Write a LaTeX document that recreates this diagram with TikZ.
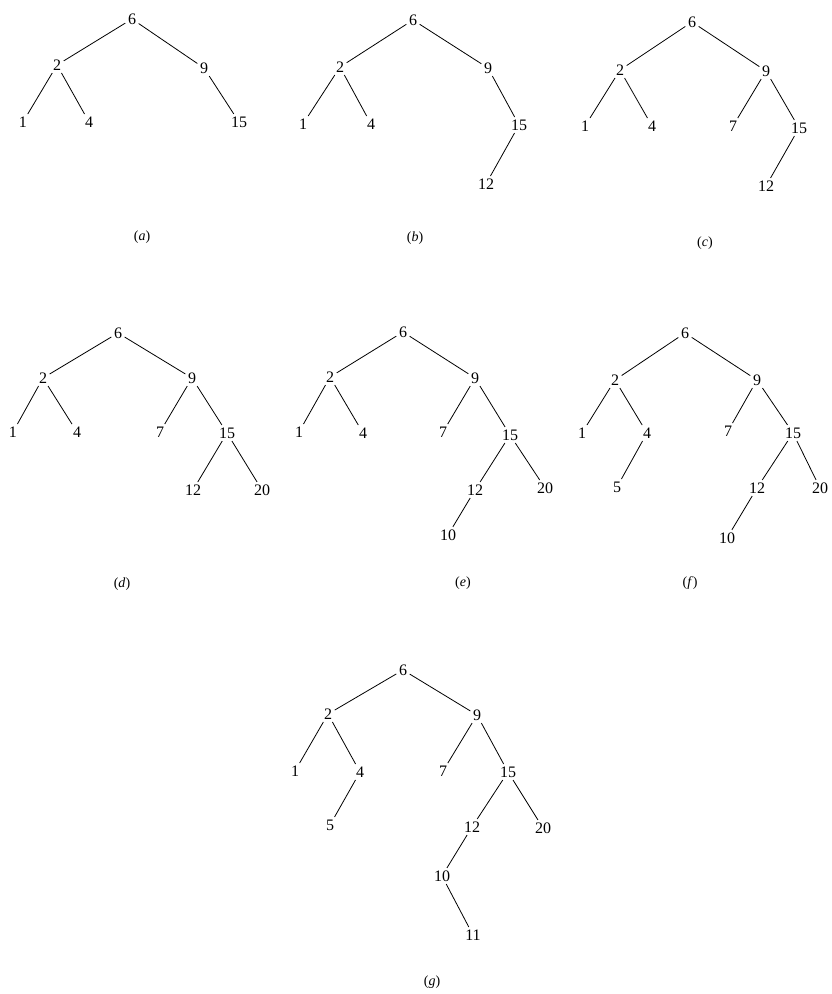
\documentclass[tikz,border=0pt]{standalone}
\usepackage{fontspec}
\setmainfont{Liberation Serif}
\begin{document}
\begin{tikzpicture}[x=1pt,y=-1pt,
  nd/.style={inner sep=2.5pt, font=\fontsize{16}{18}\selectfont},
  lbl/.style={inner sep=1pt, font=\fontsize{14}{16}\selectfont},
  ed/.style={line width=0.8pt}]
\useasboundingbox (0,0) rectangle (831,994);
% ---- (a)
\node[nd] (a6) at (132,19) {6};
\node[nd] (a2) at (57,65) {2};
\node[nd] (a9) at (204,68) {9};
\node[nd] (a1) at (23,122) {1};
\node[nd] (a4) at (89,122) {4};
\node[nd] (a15) at (239,122) {15};
\node[lbl] (la) at (142,237) {(\textit{a})};
\draw[ed] (a6)--(a2); \draw[ed] (a6)--(a9); \draw[ed] (a2)--(a1); \draw[ed] (a2)--(a4); \draw[ed] (a9)--(a15);
% ---- (b)
\node[nd] (b6) at (413,20) {6};
\node[nd] (b2) at (340,67) {2};
\node[nd] (b9) at (488,68) {9};
\node[nd] (b1) at (303,124) {1};
\node[nd] (b4) at (371,124) {4};
\node[nd] (b15) at (519,125) {15};
\node[nd] (b12) at (486,184) {12};
\node[lbl] (lb) at (415,238) {(\textit{b})};
\draw[ed] (b6)--(b2); \draw[ed] (b6)--(b9); \draw[ed] (b2)--(b1); \draw[ed] (b2)--(b4); \draw[ed] (b9)--(b15); \draw[ed] (b15)--(b12);
% ---- (c)
\node[nd] (c6) at (692,22) {6};
\node[nd] (c2) at (620,70) {2};
\node[nd] (c9) at (766,71) {9};
\node[nd] (c1) at (585,126) {1};
\node[nd] (c4) at (652,126) {4};
\node[nd] (c7) at (733,126) {7};
\node[nd] (c15) at (799,128) {15};
\node[nd] (c12) at (766,186) {12};
\node[lbl] (lc) at (705,243) {(\textit{c})};
\draw[ed] (c6)--(c2); \draw[ed] (c6)--(c9); \draw[ed] (c2)--(c1); \draw[ed] (c2)--(c4); \draw[ed] (c9)--(c7); \draw[ed] (c9)--(c15); \draw[ed] (c15)--(c12);
% ---- (d)
\node[nd] (d6) at (118,333) {6};
\node[nd] (d2) at (43,378) {2};
\node[nd] (d9) at (192,378) {9};
\node[nd] (d1) at (13,432) {1};
\node[nd] (d4) at (77,432) {4};
\node[nd] (d7) at (160,432) {7};
\node[nd] (d15) at (227,433) {15};
\node[nd] (d12) at (193,490) {12};
\node[nd] (d20) at (262,490) {20};
\node[lbl] (ld) at (122,584) {(\textit{d})};
\draw[ed] (d6)--(d2); \draw[ed] (d6)--(d9); \draw[ed] (d2)--(d1); \draw[ed] (d2)--(d4); \draw[ed] (d9)--(d7); \draw[ed] (d9)--(d15); \draw[ed] (d15)--(d12); \draw[ed] (d15)--(d20);
% ---- (e)
\node[nd] (e6) at (403,332) {6};
\node[nd] (e2) at (330,377) {2};
\node[nd] (e9) at (475,378) {9};
\node[nd] (e1) at (299,432) {1};
\node[nd] (e4) at (363,433) {4};
\node[nd] (e7) at (443,432) {7};
\node[nd] (e15) at (510,435) {15};
\node[nd] (e12) at (475,490) {12};
\node[nd] (e20) at (545,488) {20};
\node[nd] (e10) at (448,535) {10};
\node[lbl] (le) at (463,583) {(\textit{e})};
\draw[ed] (e6)--(e2); \draw[ed] (e6)--(e9); \draw[ed] (e2)--(e1); \draw[ed] (e2)--(e4); \draw[ed] (e9)--(e7); \draw[ed] (e9)--(e15); \draw[ed] (e15)--(e12); \draw[ed] (e15)--(e20); \draw[ed] (e12)--(e10);
% ---- (f)
\node[nd] (f6) at (685,333) {6};
\node[nd] (f2) at (615,380) {2};
\node[nd] (f9) at (757,380) {9};
\node[nd] (f1) at (582,433) {1};
\node[nd] (f4) at (647,433) {4};
\node[nd] (f7) at (728,431) {7};
\node[nd] (f15) at (793,433) {15};
\node[nd] (f5) at (617,487) {5};
\node[nd] (f12) at (757,488) {12};
\node[nd] (f20) at (820,488) {20};
\node[nd] (f10) at (727,538) {10};
\node[lbl] (lf) at (690,583) {(\textit{f})};
\draw[ed] (f6)--(f2); \draw[ed] (f6)--(f9); \draw[ed] (f2)--(f1); \draw[ed] (f2)--(f4); \draw[ed] (f4)--(f5); \draw[ed] (f9)--(f7); \draw[ed] (f9)--(f15); \draw[ed] (f15)--(f12); \draw[ed] (f15)--(f20); \draw[ed] (f12)--(f10);
% ---- (g)
\node[nd] (g6) at (403,670) {6};
\node[nd] (g2) at (328,714) {2};
\node[nd] (g9) at (477,715) {9};
\node[nd] (g1) at (295,771) {1};
\node[nd] (g4) at (360,772) {4};
\node[nd] (g7) at (443,771) {7};
\node[nd] (g15) at (508,772) {15};
\node[nd] (g5) at (330,825) {5};
\node[nd] (g12) at (472,827) {12};
\node[nd] (g20) at (543,828) {20};
\node[nd] (g10) at (442,876) {10};
\node[nd] (g11) at (473,935) {11};
\node[lbl] (lg) at (432,982) {(\textit{g})};
\draw[ed] (g6)--(g2); \draw[ed] (g6)--(g9); \draw[ed] (g2)--(g1); \draw[ed] (g2)--(g4); \draw[ed] (g4)--(g5); \draw[ed] (g9)--(g7); \draw[ed] (g9)--(g15); \draw[ed] (g15)--(g12); \draw[ed] (g15)--(g20); \draw[ed] (g12)--(g10); \draw[ed] (g10)--(g11);
\end{tikzpicture}
\end{document}
